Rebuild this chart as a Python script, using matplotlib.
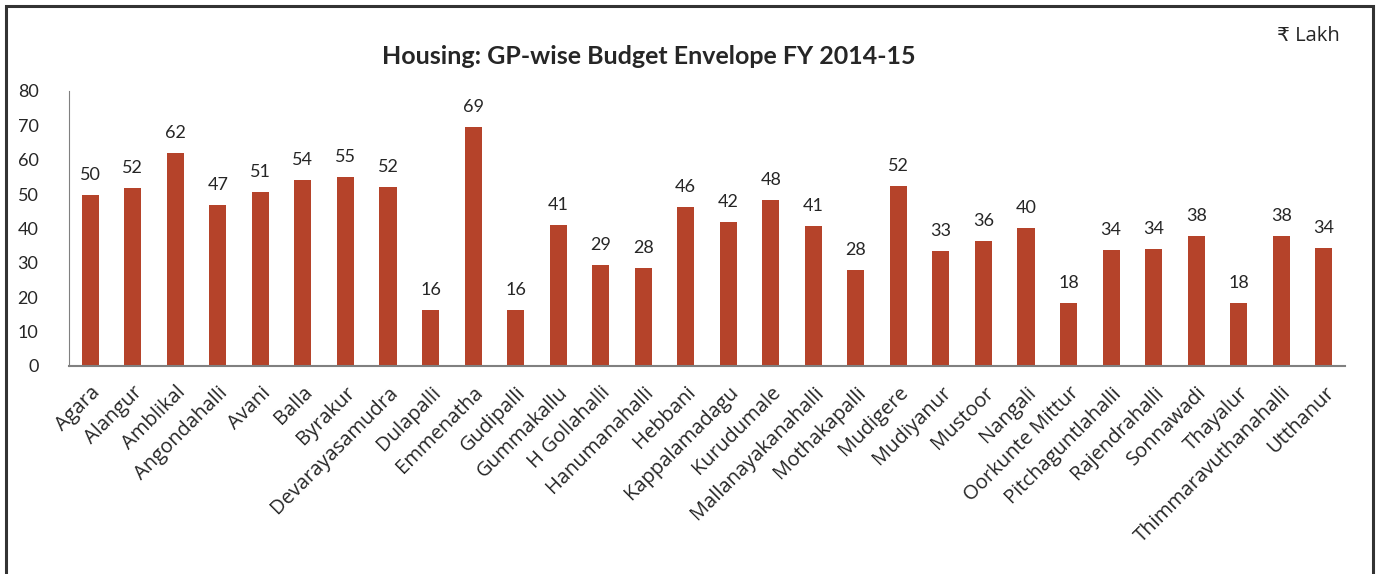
import numpy as np
import matplotlib.pyplot as plt
from matplotlib.patches import Rectangle

villages = ["Agara", "Alangur", "Amblikal", "Angondahalli", "Avani", "Balla", "Byrakur",
            "Devarayasamudra", "Dulapalli", "Emmenatha", "Gudipalli", "Gummakallu",
            "H Gollahalli", "Hanumanahalli", "Hebbani", "Kappalamadagu", "Kurudumale",
            "Mallanayakanahalli", "Mothakapalli", "Mudigere", "Mudiyanur", "Mustoor",
            "Nangali", "Oorkunte Mittur", "Pitchaguntlahalli", "Rajendrahalli",
            "Sonnawadi", "Thayalur", "Thimmaravuthanahalli", "Utthanur"]
budget = [49.8, 51.7, 61.9, 46.8, 50.6, 54.1, 54.9, 52.0, 16.3, 69.4, 16.4, 41.0,
          29.4, 28.5, 46.2, 41.9, 48.3, 40.7, 27.9, 52.4, 33.4, 36.4, 40.1, 18.4,
          33.7, 34.0, 37.8, 18.3, 37.8, 34.3]
yticks = [0, 10, 20, 30, 40, 50, 60, 70, 80]

text_col = "#262626"
bar_col = "#B5432A"

fig = plt.figure(figsize=(13.78, 5.74), dpi=100)
ax = fig.add_axes([69/1378, 1 - 366/574, (1345-69)/1378, (366-91)/574])

x = np.arange(len(villages))
bars = ax.bar(x, budget, width=0.4, color=bar_col)
for xi, v in zip(x, budget):
    ax.text(xi, v + 3.5, "%.0f" % v, ha="center", va="bottom", fontsize=13,
            family="Lato", color=text_col)

ax.set_xlim(-0.5, len(villages) - 0.5)
ax.set_ylim(0, 80)
ax.set_yticks(yticks)
ax.set_yticklabels([str(t) for t in yticks], family="Lato", fontsize=13, color=text_col)
ax.set_xticks(x)
ax.set_xticklabels(villages, rotation=45, ha="right", rotation_mode="anchor",
                   family="Open Sans", fontsize=14.5, color=text_col)
ax.tick_params(axis="both", length=0)
ax.tick_params(axis="y", pad=22)
ax.tick_params(axis="x", pad=12)
for s in ["top", "right"]:
    ax.spines[s].set_visible(False)
ax.spines["left"].set_color("#808080")
ax.spines["bottom"].set_color("#808080")
ax.spines["bottom"].set_linewidth(1.5)

fig.text(649/1378, 1 - 57/574, "Housing: GP-wise Budget Envelope FY 2014-15", ha="center",
         va="center", fontsize=18, fontweight="bold", family="Lato", color=text_col)
fig.text(1340/1378, 1 - 36/574, "₹ Lakh", ha="right", va="center", fontsize=14.5,
         family=["Open Sans", "DejaVu Sans"], color=text_col)

fig.patches.append(Rectangle((6/1378, -0.05), (1373-6)/1378, 1.05 - 6/574,
                             transform=fig.transFigure, fill=False,
                             edgecolor="#333333", linewidth=2.2))

fig.savefig("out.png", dpi=100)
